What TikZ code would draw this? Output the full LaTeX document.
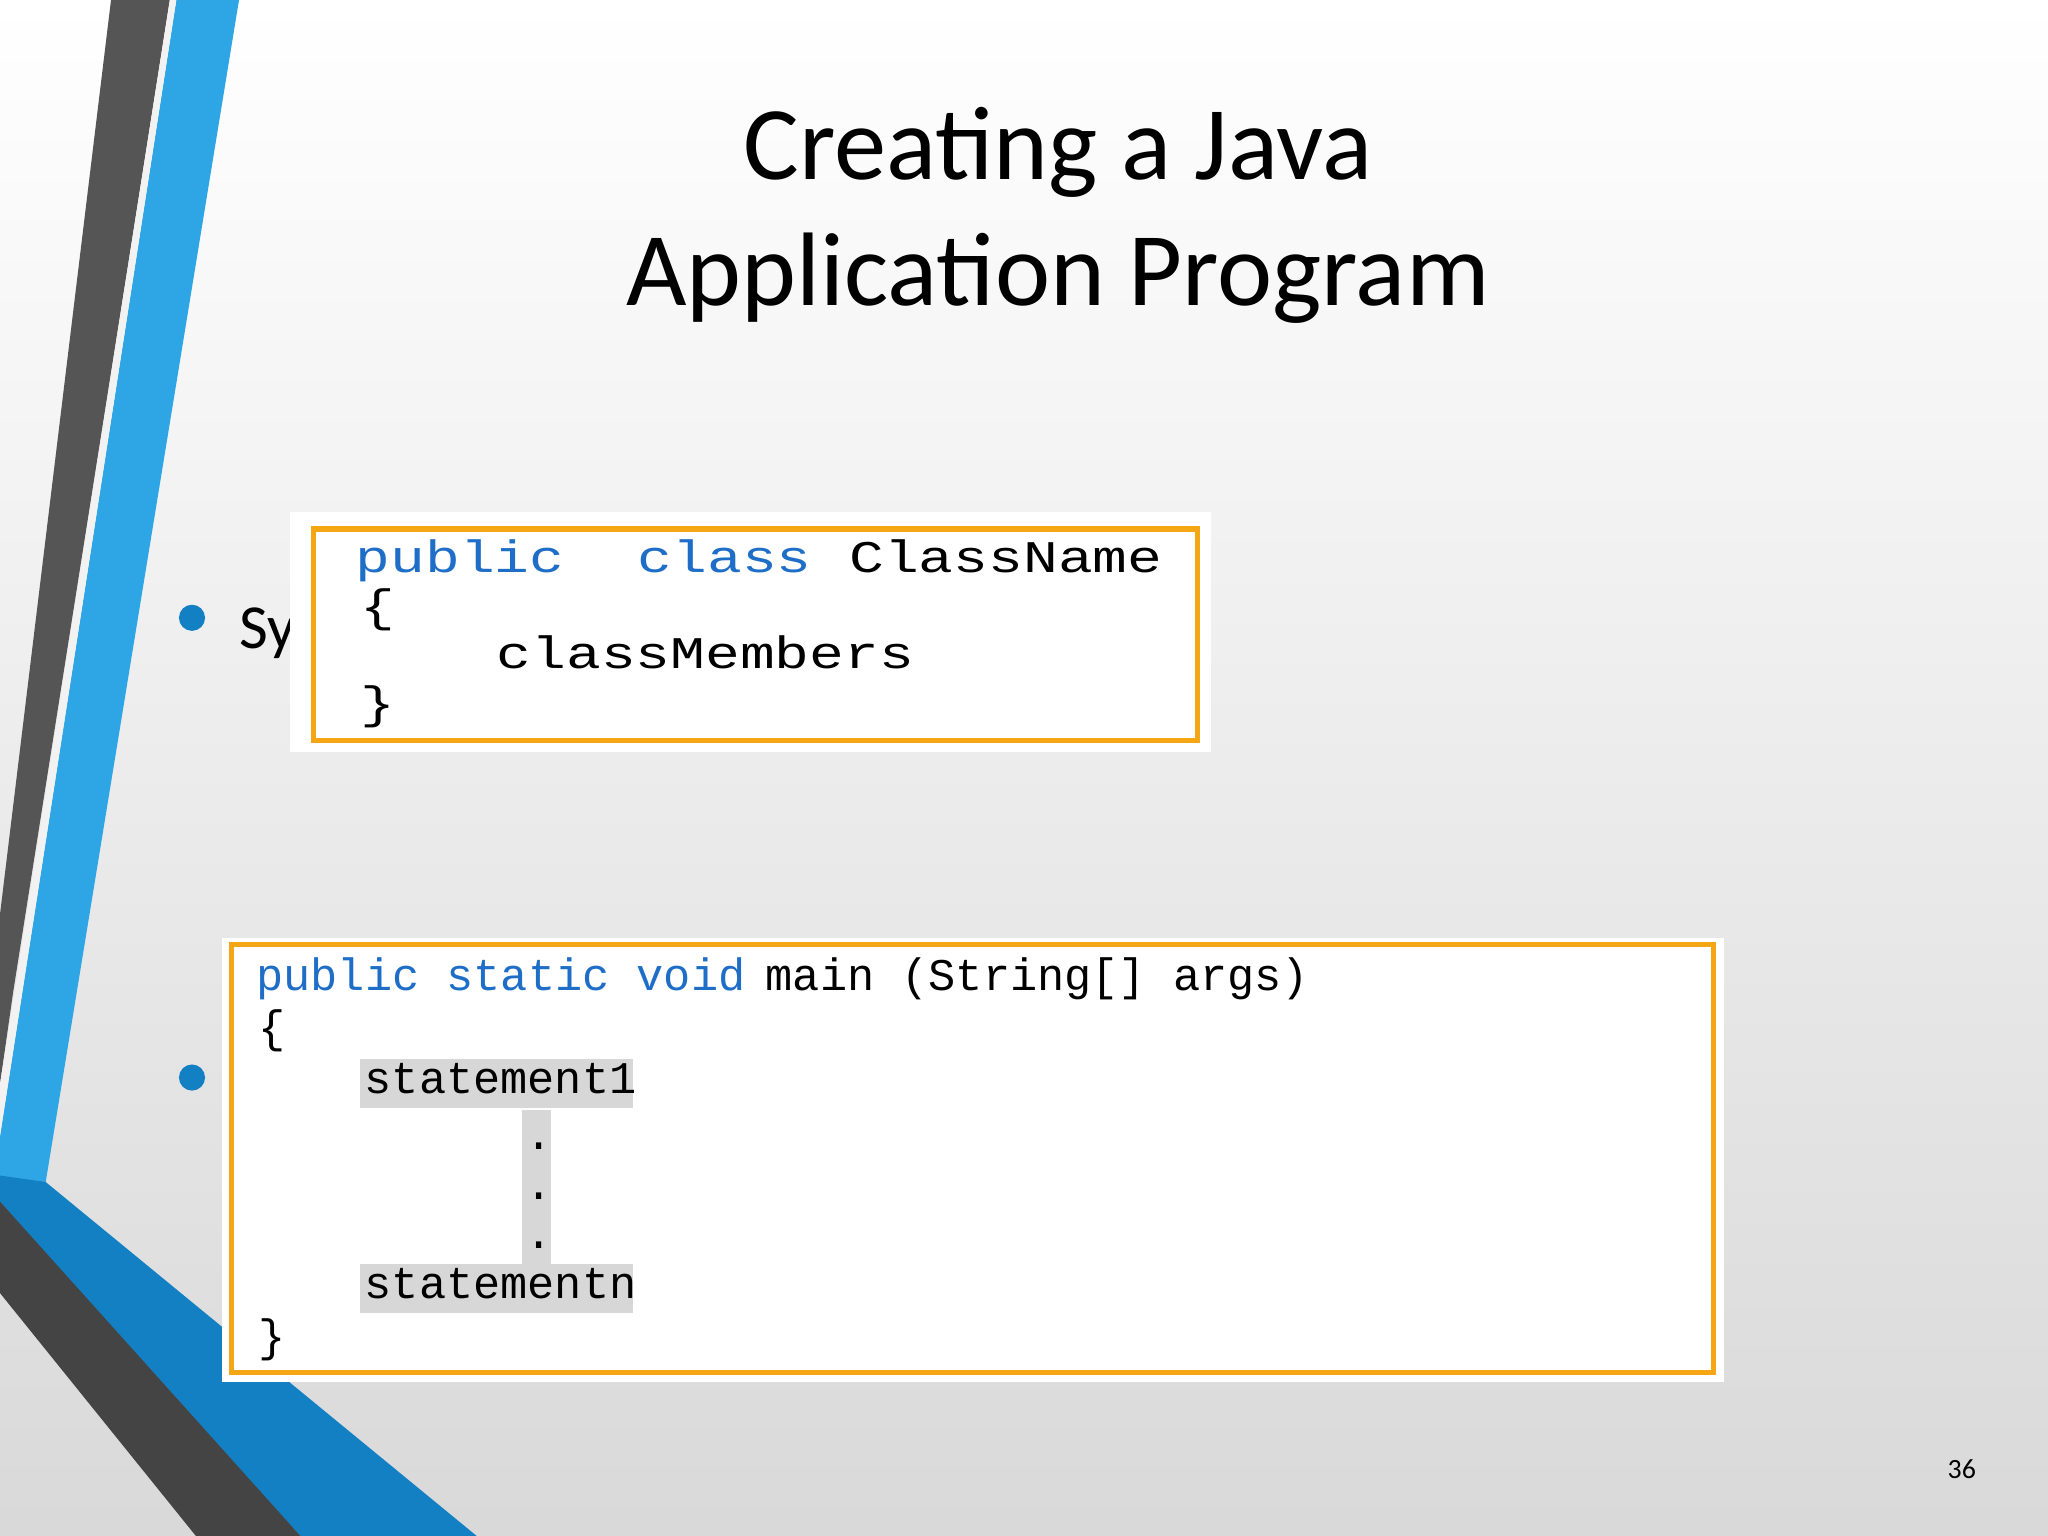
\documentclass[tikz,border=0pt]{standalone}
\usepackage{fontspec}
\setmainfont{Carlito}
\newfontfamily\codefont{Liberation Mono}
\usepackage{tikz}
\definecolor{stripeblue}{RGB}{46,166,230}
\definecolor{deepblue}{RGB}{20,128,196}
\definecolor{stripegray}{RGB}{85,85,85}
\definecolor{frameorange}{RGB}{245,166,20}
\definecolor{kwblue}{RGB}{30,110,200}
\definecolor{hlgray}{RGB}{215,215,215}
\tikzset{
  codebox/.style={draw=frameorange,line width=3,fill=white},
  code/.style={anchor=base west,inner sep=0pt,font=\codefont\fontsize{26}{26}\selectfont},
  kw/.style={code,text=kwblue},
  widecode/.style={code,xscale=1.28},
  widekw/.style={kw,xscale=1.28}
}
\begin{document}
\begin{tikzpicture}[x=0.75pt,y=0.75pt,yscale=-1,xscale=1]
% background
\shade [top color=white,bottom color=gray!30] (0,0) rectangle (1568,1176);
\useasboundingbox (0,0) rectangle (1568,1176);
% left stripes
\fill [stripegray] (85,0) -- (130,0) -- (10,760) -- (0,830) -- (0,700) -- cycle;
\fill [stripeblue] (135,0) -- (183,0) -- (35,905) -- (0,905) -- (0,870) -- cycle;
\fill [white!90!gray] (130,0) -- (135,0) -- (0,870) -- (0,830) -- cycle;
\fill [deepblue] (0,900) -- (35,905) -- (365,1176) -- (230,1176) -- (0,930) -- cycle;
\fill [stripegray!80!black] (0,920) -- (230,1176) -- (150,1176) -- (0,990) -- cycle;
% title
\node (title) at (810,165) [align=center,font=\fontsize{60}{72}\selectfont] {Creating a Java\\Application Program};
% bullets
\fill [deepblue] (147,473) circle (10);
\fill [deepblue] (147,825) circle (10);
\begin{scope}
\clip (150,430) rectangle (222,530);
\node (syn) at (183,485) [anchor=west,inner sep=0pt,font=\fontsize{36}{36}\selectfont] {Syntax};
\end{scope}
% class box
\fill [white] (222,392) rectangle (927,576);
\draw [codebox] (240,405) rectangle (917,567);
\node [widekw] at (272,438) {public};
\node [widekw] at (488,438) {class};
\node [widecode] at (650,438) {ClassName};
\node [widecode] at (276,476) {\{};
\node [widecode] at (380,512) {classMembers};
\node [widecode] at (276,550) {\}};
% main box
\fill [white] (170,718) rectangle (1320,1058);
\draw [codebox] (177,723) rectangle (1312,1051);
\fill [hlgray] (276,811) rectangle (485,848);
\fill [hlgray] (400,850) rectangle (422,968);
\fill [hlgray] (276,968) rectangle (485,1005);
\node [kw] at (196,758) {public static void};
\node [code] at (586,758) {main (String[] args)};
\node [code] at (198,798) {\{};
\node [code] at (279,837) {statement1};
\foreach \y in {880,918,956} \node [code] at (402,\y) {.};
\node [code] at (279,994) {statementn};
\node [code] at (198,1035) {\}};
% page number
\node (pg) at (1502,1125) [font=\fontsize{16}{16}\selectfont] {36};
\end{tikzpicture}
\end{document}
